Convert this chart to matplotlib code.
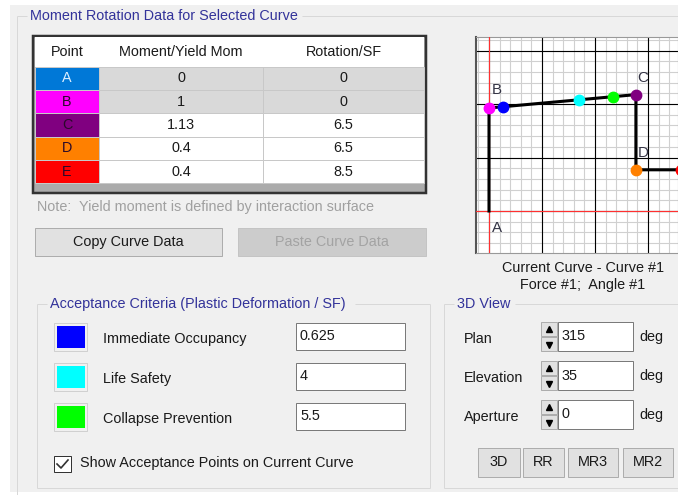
import matplotlib.pyplot as plt
from matplotlib.patches import Rectangle
import numpy as np

plt.rcParams["font.family"] = ["Liberation Sans", "DejaVu Sans"]

# %% data
points = ["A", "B", "C", "D", "E"]
moment = [0, 1, 1.13, 0.4, 0.4]
rotation = [0, 0, 6.5, 6.5, 8.5]
point_colors = ["#0078D7", "#FF00FF", "#800080", "#FF8000", "#FF0000"]

accept_labels = ["Immediate Occupancy", "Life Safety", "Collapse Prevention"]
accept_values = [0.625, 4, 5.5]
accept_colors = ["#0000FF", "#00FFFF", "#00FF00"]

view_labels = ["Plan", "Elevation", "Aperture"]
view_values = [315, 35, 0]
view_buttons = ["3D", "RR", "MR3", "MR2"]

FS = 10.4
BG = "#F0F0F0"
TITLE = "#33339A"
TXT = "#1A1A1A"

fig = plt.figure(figsize=(6.78, 4.95), dpi=100)
fig.patch.set_facecolor("white")
ax = fig.add_axes([0, 0, 1, 1])
ax.set_xlim(0, 678)
ax.set_ylim(495, 0)
ax.axis("off")


def rect(x0, y0, x1, y1, fc="none", ec="none", lw=1, z=1):
    ax.add_patch(Rectangle((x0, y0), x1 - x0, y1 - y0, facecolor=fc,
                           edgecolor=ec, linewidth=lw * 0.72, zorder=z))


def txt(x, y, s, ha="left", color=TXT, size=FS, z=5):
    ax.text(x, y, s, ha=ha, va="center", color=color, fontsize=size, zorder=z)


def line(xs, ys, color="#D8D8D8", lw=1, z=2):
    ax.plot(xs, ys, color=color, lw=lw * 0.72, zorder=z, solid_capstyle="butt")


def groupbox(x0, y0, x1, y1, title, tx0, tx1, bottom=True):
    line([x0, tx0], [y0, y0])
    line([tx1, x1], [y0, y0])
    line([x0, x0], [y0, y1])
    line([x1, x1], [y0, y1])
    if bottom:
        line([x0, x1], [y1, y1])
    txt(tx0 + 3, y0, title, color=TITLE)


def button(x0, y0, x1, y1, label, enabled=True):
    if enabled:
        rect(x0, y0, x1, y1, fc="#E1E1E1", ec="#ADADAD", z=3)
        txt((x0 + x1) / 2, (y0 + y1) / 2, label, ha="center")
    else:
        rect(x0, y0, x1, y1, fc="#CCCCCC", ec="#C4C4C4", z=3)
        txt((x0 + x1) / 2, (y0 + y1) / 2, label, ha="center", color="#A3A3A3")


def textbox(x0, y0, x1, y1, value):
    rect(x0, y0, x1, y1, fc="white", ec="#7A7A7A", z=3)
    txt(x0 + 4, (y0 + y1) / 2, value)


# window background
rect(10, 5, 678, 492, fc=BG, z=0)

# %% moment rotation group
groupbox(17, 16, 690, 500, "Moment Rotation Data for Selected Curve", 27, 302,
         bottom=False)

# table
col_x = [35, 99, 263, 424]
row_y = [37, 67, 90, 113, 137, 160, 183]
rect(33, 36, 426, 193, fc="#ABABAB", ec="#333333", lw=2.5, z=2)
rect(col_x[0], row_y[0], col_x[-1], row_y[1], fc="white", z=3)
headers = ["Point", "Moment/Yield Mom", "Rotation/SF"]
for i, h in enumerate(headers):
    txt((col_x[i] + col_x[i + 1]) / 2, (row_y[0] + row_y[1]) / 2, h, ha="center")
for r, p in enumerate(points):
    y0, y1 = row_y[r + 1], row_y[r + 2]
    cell_bg = "#D9D9D9" if r < 2 else "white"
    rect(col_x[0], y0, col_x[1], y1, fc=point_colors[r], ec="#C8C8C8", z=3)
    rect(col_x[1], y0, col_x[2], y1, fc=cell_bg, ec="#C8C8C8", z=3)
    rect(col_x[2], y0, col_x[3], y1, fc=cell_bg, ec="#C8C8C8", z=3)
    yc = (y0 + y1) / 2
    txt((col_x[0] + col_x[1]) / 2, yc, p, ha="center",
        color="#DDEEFF" if r == 0 else "#2A0A2A")
    txt((col_x[1] + col_x[2]) / 2, yc, f"{moment[r]:g}", ha="center")
    txt((col_x[2] + col_x[3]) / 2, yc, f"{rotation[r]:g}", ha="center")

txt(37, 207, "Note:  Yield moment is defined by interaction surface", color="#A0A0A0")
button(35, 228, 222, 256, "Copy Curve Data")
button(238, 228, 426, 256, "Paste Curve Data", enabled=False)

# %% acceptance criteria group
groupbox(37, 304, 430, 488, "Acceptance Criteria (Plastic Deformation / SF)", 47, 355)
for i, (lab, val, col) in enumerate(zip(accept_labels, accept_values, accept_colors)):
    y0 = 323 + i * 40
    rect(54, y0, 87, y0 + 28, fc="#F0F0F0", ec="#D0D0D0", z=3)
    rect(57, y0 + 3, 85, y0 + 25, fc=col, z=4)
    txt(103, y0 + 16, lab)
    textbox(296, y0, 405, y0 + 27, f"{val:g}")

rect(54, 456, 71, 472, fc="white", ec="#333333", z=3)
ax.plot([57, 61, 68], [464, 468, 460], color="#333333", lw=1.2, zorder=4)
txt(80, 463, "Show Acceptance Points on Current Curve")

# %% 3D view group
groupbox(444, 304, 690, 488, "3D View", 454, 515)
for i, (lab, val) in enumerate(zip(view_labels, view_values)):
    y0 = 322 + i * 39
    txt(464, y0 + 17, lab)
    rect(541, y0, 557, y0 + 14, fc="#E1E1E1", ec="#ADADAD", z=3)
    rect(541, y0 + 15, 557, y0 + 29, fc="#E1E1E1", ec="#ADADAD", z=3)
    ax.plot(549, y0 + 7, marker="^", color="black", ms=4.5, zorder=4)
    ax.plot(549, y0 + 23, marker="v", color="black", ms=4.5, zorder=4)
    textbox(558, y0, 633, y0 + 29, f"{val:g}")
    txt(639, y0 + 15, "deg")

btn_x = [(478, 520), (523, 564), (568, 618), (623, 673)]
for (x0, x1), lab in zip(btn_x, view_buttons):
    button(x0, 448, x1, 477, lab)

txt(583, 268, "Current Curve - Curve #1", ha="center")
txt(583, 285, "Force #1;  Angle #1", ha="center")

# %% curve plot
px = ax.inset_axes([476, 37, 678 - 476, 253 - 37], transform=ax.transData, zorder=6)
xlim = (-13 / 22.6, 189 / 22.6)
ylim = (-42 / 103, 174 / 103)
gx, gy = 53 / 22.6, 53.5 / 103
px.set_xlim(*xlim)
px.set_ylim(*ylim)
px.set_facecolor("white")
for v in np.arange(-1, 5) * gx:
    for k in range(5):
        px.axvline(v + k * gx / 5, color="#D0D0D0", lw=0.8, zorder=1)
    px.axvline(v, color="black", lw=0.8, zorder=2)
for v in np.arange(-1, 4) * gy:
    for k in range(5):
        px.axhline(v + k * gy / 5, color="#D0D0D0", lw=0.8, zorder=1)
    px.axhline(v, color="black", lw=0.8, zorder=2)
px.axvline(0, color="#FF3030", lw=0.8, zorder=3)
px.axhline(0, color="#FF3030", lw=0.8, zorder=3)
px.set_xticks([])
px.set_yticks([])
for s in px.spines.values():
    s.set_color("#999999")
px.spines["left"].set_color("#555555")
px.spines["left"].set_linewidth(1.5)

px.plot(rotation, moment, color="black", lw=2.2, zorder=4, clip_on=True)
for r, m, c in zip(rotation, moment, point_colors):
    if c != point_colors[0]:
        px.plot(r, m, "o", color=c, ms=7.5, zorder=5)
acc_moment = np.interp(accept_values, rotation[1:3], moment[1:3])
for r, m, c in zip(accept_values, acc_moment, accept_colors):
    px.plot(r, m, "o", color=c, ms=7.5, zorder=6)

label_off = {"A": (8, -17), "B": (8, 18), "C": (7, 17), "D": (7, 17)}
for p, r, m in zip(points, rotation, moment):
    if p in label_off:
        px.annotate(p, (r, m), xytext=label_off[p], textcoords="offset pixels",
                    ha="center", va="center", fontsize=FS + 0.5, color="#333344",
                    zorder=7)

fig.savefig("out.png", dpi=100, facecolor=fig.get_facecolor())
